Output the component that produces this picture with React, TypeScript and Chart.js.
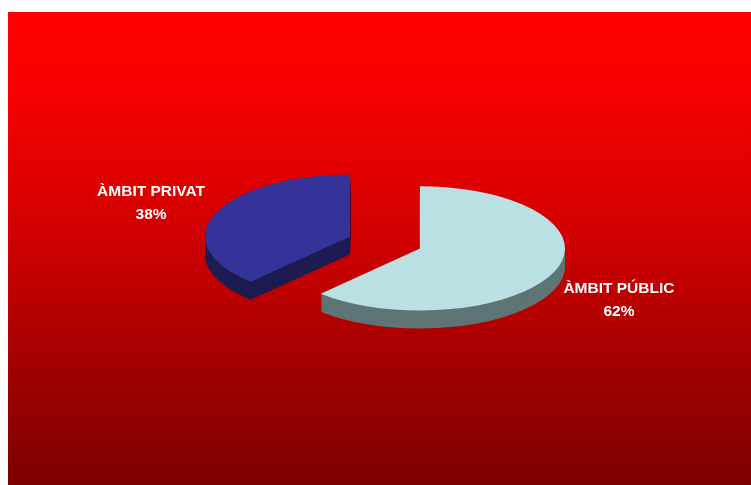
import { useEffect, useRef } from 'react';
import Chart from 'chart.js/auto';

const categories = ['ÀMBIT PÚBLIC', 'ÀMBIT PRIVAT'];
const values = [62, 38];
const topColors = ['#BAE0E3', '#333399'];
const sideColors = ['#5F7575', '#1D1D52'];

const TILT = 0.428;
const DEPTH = 18;
const EXPLODE = 37.6;
const LABEL_DIST = 214;

const bgStops: [number, string][] = [
  [0, '#FF0000'],
  [0.1, '#FA0000'],
  [0.207, '#F20000'],
  [0.503, '#CC0000'],
  [0.799, '#9A0000'],
  [1, '#7C0000'],
];

const pie3d = {
  id: 'pie3d',
  beforeDraw(chart: any) {
    const { ctx, width, height } = chart;
    const g = ctx.createLinearGradient(0, 0, 0, height);
    bgStops.forEach(([o, c]) => g.addColorStop(o, c));
    ctx.save();
    ctx.fillStyle = g;
    ctx.fillRect(0, 0, width, height);
    ctx.restore();
  },
  beforeDatasetsDraw(chart: any) {
    const ctx = chart.ctx;
    const meta = chart.getDatasetMeta(0);
    const arcs = meta.data;
    const drawFace = (arc: any, dy: number, color: string) => {
      const mid = (arc.startAngle + arc.endAngle) / 2;
      const ex = Math.cos(mid) * EXPLODE;
      const ey = Math.sin(mid) * EXPLODE;
      ctx.save();
      ctx.translate(arc.x + ex, arc.y + ey * TILT + dy);
      ctx.scale(1, TILT);
      ctx.translate(-arc.x, -arc.y);
      const o = arc.options;
      arc.options = { ...o, backgroundColor: color, borderColor: color, borderWidth: 0, offset: 0 };
      arc.draw(ctx);
      arc.options = o;
      ctx.restore();
    };
    for (let d = DEPTH; d >= 1; d--) {
      arcs.forEach((a: any, i: number) => drawFace(a, d, sideColors[i]));
    }
    arcs.forEach((a: any, i: number) => drawFace(a, 0, topColors[i]));

    const total = values.reduce((s, v) => s + v, 0);
    ctx.save();
    ctx.fillStyle = '#FFFFFF';
    ctx.font = 'bold 15.5px Arial, "Liberation Sans", sans-serif';
    ctx.textAlign = 'center';
    ctx.textBaseline = 'middle';
    arcs.forEach((a: any, i: number) => {
      const mid = (a.startAngle + a.endAngle) / 2;
      const r = EXPLODE + LABEL_DIST;
      const x = a.x + Math.cos(mid) * r;
      const y = a.y + Math.sin(mid) * r * TILT + (Math.sin(mid) > 0 ? DEPTH : 0);
      ctx.fillText(categories[i], x, y - 11.5);
      ctx.fillText(Math.round((values[i] / total) * 100) + '%', x, y + 11.5);
    });
    ctx.restore();
    return false;
  },
};

export default function App() {
  const ref = useRef<HTMLCanvasElement | null>(null);
  useEffect(() => {
    document.documentElement.style.overflow = 'hidden';
    document.body.style.margin = '0';
    const canvas = ref.current;
    if (!canvas) return;
    const chart = new Chart(canvas, {
      type: 'pie',
      data: {
        labels: categories,
        datasets: [
          {
            data: values,
            backgroundColor: topColors,
            borderWidth: 0,
          },
        ],
      },
      options: {
        responsive: false,
        animation: false,
        radius: 145,
        layout: { padding: { left: 11, right: 0, top: 0, bottom: 12 } },
        plugins: {
          legend: { display: false },
          tooltip: { enabled: false },
        },
        events: [],
      } as any,
      plugins: [pie3d],
    });
    return () => chart.destroy();
  }, []);
  return (
    <canvas
      ref={ref}
      width={743}
      height={473}
      style={{ display: 'block', marginLeft: 8, marginTop: 12, width: 743, height: 473 }}
    />
  );
}
